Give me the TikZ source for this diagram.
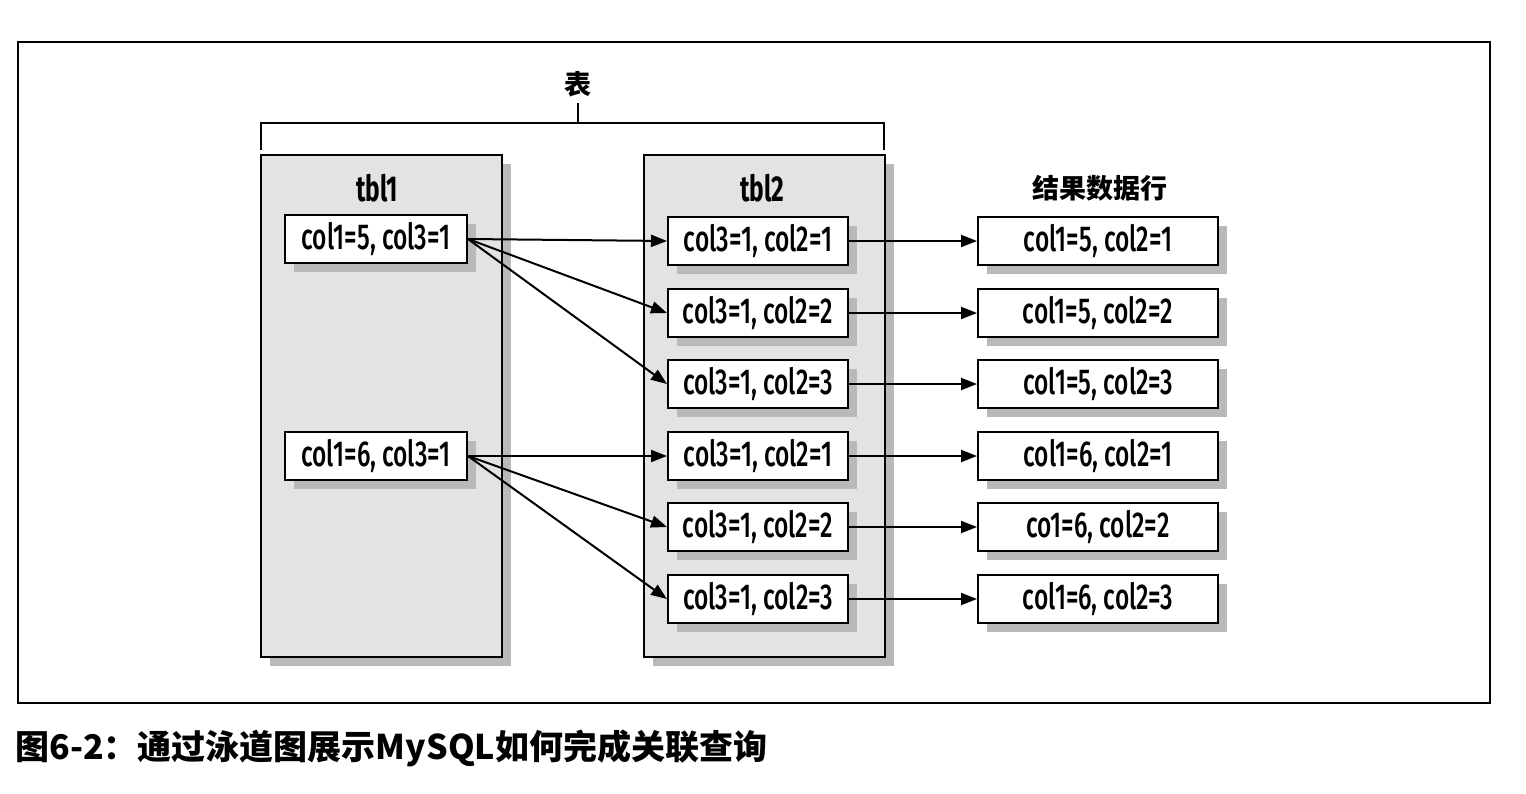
\documentclass[tikz,border=0pt]{standalone}
\usepackage{fontspec}
\setmainfont{Fira Sans}[FakeStretch=0.68,UprightFont={* Medium},BoldFont={* Bold}]
\newfontfamily\cjk{Noto Sans CJK SC}
\usetikzlibrary{arrows.meta,shadows}
\tikzset{
  shad/.style={drop shadow={shadow xshift=9pt,shadow yshift=-9pt,fill=gray!55,opacity=1}},
  panel/.style={draw,line width=2pt,fill=gray!22,shad,inner sep=0pt,minimum width=241pt,minimum height=502pt},
  rowbox/.style={draw,line width=2pt,fill=white,shad,inner sep=0pt,minimum height=48pt,font=\fontsize{36}{38}\selectfont},
  lbox/.style={rowbox,minimum width=182pt},
  mbox/.style={rowbox,minimum width=180pt},
  rbox/.style={rowbox,minimum width=240pt},
  arr/.style={-{Triangle[length=16pt,width=12pt]},line width=2pt},
  ttl/.style={font=\bfseries\fontsize{36}{38}\selectfont},
}
\begin{document}
\begin{tikzpicture}[x=1pt,y=-1pt]
\fill[white] (0,0) rectangle (1526,793);
\useasboundingbox (0,0) rectangle (1526,793);
\draw[line width=1.8pt] (18,42) rectangle (1490,703);
% bracket
\node[font=\cjk\bfseries\fontsize{27}{29}\selectfont] (tab) at (578,84) {表};
\coordinate (bl) at (261,150);
\coordinate (br) at (884,150);
\coordinate (bm) at (578,123);
\draw[line width=1.8pt] (bl) -- (261,123) -- (884,123) -- (br);
\draw[line width=1.8pt] (bm) -- (578,103);
% panels
\node[panel] (p1) at (381.5,406) {};
\node[panel] (p2) at (764.5,406) {};
\node[ttl] (t1) at (377,188) {tbl1};
\node[ttl] (t2) at (762,188) {tbl2};
\node[font=\cjk\bfseries\fontsize{27}{29}\selectfont] (t3) at (1100,188) {结果数据行};
% left
\node[lbox] (l1) at (376,239) {col1=5, col3=1};
\node[lbox] (l2) at (376,456) {col1=6, col3=1};
% middle
\node[mbox] (m1) at (758,241) {col3=1, col2=1};
\node[mbox] (m2) at (758,313) {col3=1, col2=2};
\node[mbox] (m3) at (758,384) {col3=1, col2=3};
\node[mbox] (m4) at (758,456) {col3=1, col2=1};
\node[mbox] (m5) at (758,527) {col3=1, col2=2};
\node[mbox] (m6) at (758,599) {col3=1, col2=3};
% right
\node[rbox] (r1) at (1098,241) {col1=5, col2=1};
\node[rbox] (r2) at (1098,313) {col1=5, col2=2};
\node[rbox] (r3) at (1098,384) {col1=5, col2=3};
\node[rbox] (r4) at (1098,456) {col1=6, col2=1};
\node[rbox] (r5) at (1098,527) {co1=6, col2=2};
\node[rbox] (r6) at (1098,599) {col1=6, col2=3};
% arrows
\foreach \m in {m1,m2,m3} \draw[arr] (l1.east) -- (\m.west);
\foreach \m in {m4,m5,m6} \draw[arr] (l2.east) -- (\m.west);
\foreach \i in {1,...,6} \draw[arr] (m\i.east) -- (r\i.west);
% caption
\node[anchor=west,font=\cjk\bfseries\fontsize{34}{36}\selectfont] (cap) at (12,748) {图6-2：通过泳道图展示MySQL如何完成关联查询};
\end{tikzpicture}
\end{document}
